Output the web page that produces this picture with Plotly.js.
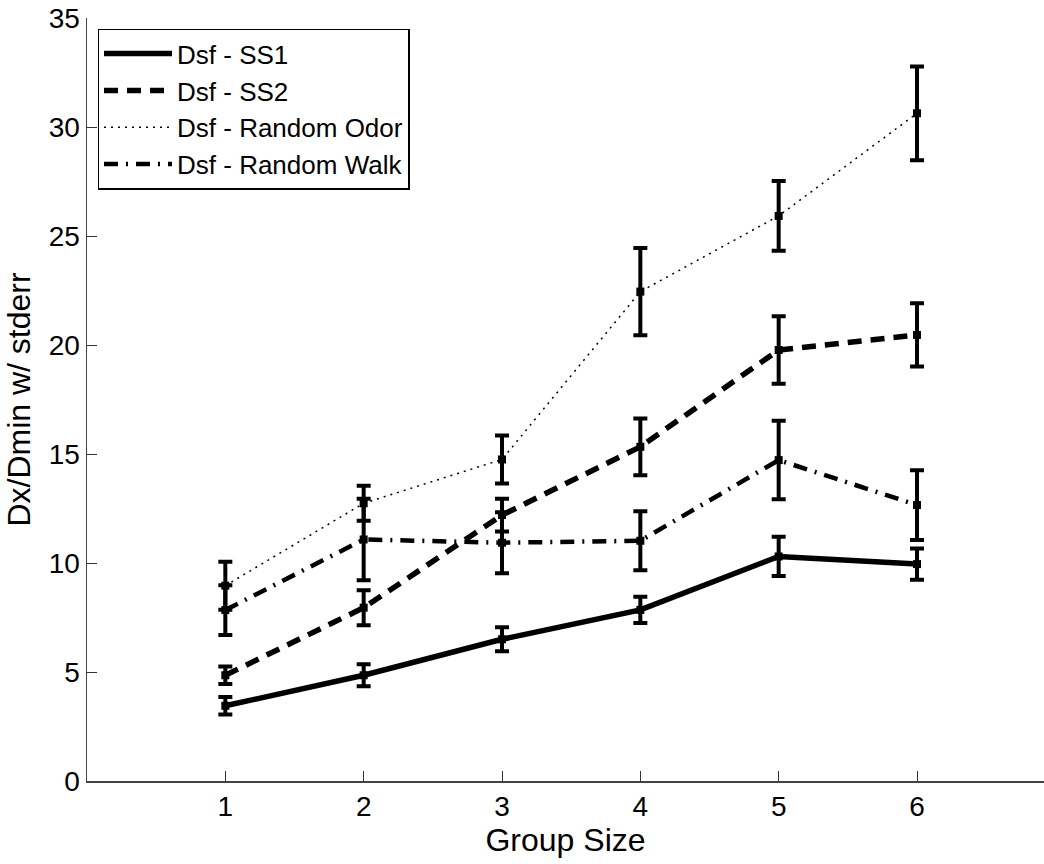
<!DOCTYPE html>
<html>
<head>
<meta charset="utf-8">
<script src="https://cdn.plot.ly/plotly-3.0.1.min.js"></script>
<style>html,body{margin:0;padding:0;background:#fff;}#chart{width:1044px;height:864px;}</style>
</head>
<body>
<div id="chart"></div>
<script>
const groupSize = [1, 2, 3, 4, 5, 6];
const seriesNames = ["Dsf - SS1", "Dsf - SS2", "Dsf - Random Odor", "Dsf - Random Walk"];
const ss1 = [3.45, 4.85, 6.5, 7.85, 10.3, 9.95];
const ss1Err = [0.4, 0.5, 0.55, 0.6, 0.9, 0.72];
const ss2 = [4.85, 7.95, 12.2, 15.33, 19.77, 20.46];
const ss2Err = [0.4, 0.8, 0.75, 1.3, 1.55, 1.45];
const randomOdor = [8.96, 12.74, 14.75, 22.45, 25.92, 30.63];
const randomOdorErr = [1.1, 0.8, 1.1, 2.0, 1.6, 2.15];
const randomWalk = [7.84, 11.08, 10.93, 11.02, 14.72, 12.66];
const randomWalkErr = [1.14, 1.87, 1.4, 1.35, 1.8, 1.6];
const yTicks = [0, 5, 10, 15, 20, 25, 30, 35];

const lineStyles = [
  {dash: "solid", width: 5.5},
  {dash: "14px,9px", width: 5.5},
  {dash: "2px,5px", width: 1.5},
  {dash: "14px,8px,2px,8px", width: 4.5}
];
const ys = [ss1, ss2, randomOdor, randomWalk];
const errs = [ss1Err, ss2Err, randomOdorErr, randomWalkErr];

const traces = [];
ys.forEach((y, i) => {
  const st = lineStyles[i];
  traces.push({
    x: groupSize, y: y, type: "scatter", mode: "lines+markers",
    showlegend: false,
    line: {color: "#000", width: st.width, dash: st.dash},
    marker: {color: "#000", size: 8, symbol: "square"},
    error_y: {type: "data", array: errs[i], visible: true, color: "#000", thickness: 4, width: 7}
  });
});
ys.forEach((y, i) => {
  const st = lineStyles[i];
  traces.push({
    x: [null], y: [null], type: "scatter", mode: "lines", name: seriesNames[i],
    line: {color: "#000", width: st.width, dash: st.dash}
  });
});

const layout = {
  width: 1044, height: 864,
  margin: {l: 87, r: 0, t: 18, b: 83},
  paper_bgcolor: "#fff", plot_bgcolor: "#fff",
  font: {family: "Liberation Sans, Arial, Helvetica, sans-serif", color: "#000", size: 28},
  showlegend: true,
  legend: {
    x: 0.011, y: 0.986, xanchor: "left", yanchor: "top",
    bgcolor: "#fff", bordercolor: "#000", borderwidth: 1.5,
    font: {size: 26, color: "#000"}, tracegroupgap: 0, itemwidth: 68
  },
  xaxis: {
    range: [0, 6.918], tickvals: groupSize, ticks: "inside", ticklen: 10, tickwidth: 1, tickcolor: "#333",
    showline: true, linecolor: "#444", linewidth: 1.5, showgrid: false, zeroline: false,
    tickfont: {size: 28},
    title: {text: "Group Size", font: {size: 32}, standoff: 4}
  },
  yaxis: {
    range: [0, 35], tickvals: yTicks, ticks: "inside", ticklen: 10, tickwidth: 1, tickcolor: "#333",
    showline: true, linecolor: "#444", linewidth: 1.5, showgrid: false, zeroline: false,
    tickfont: {size: 28},
    title: {text: "Dx/Dmin w/ stderr", font: {size: 32}, standoff: 8}
  }
};

Plotly.newPlot("chart", traces, layout, {staticPlot: true, displayModeBar: false});
</script>
</body>
</html>
